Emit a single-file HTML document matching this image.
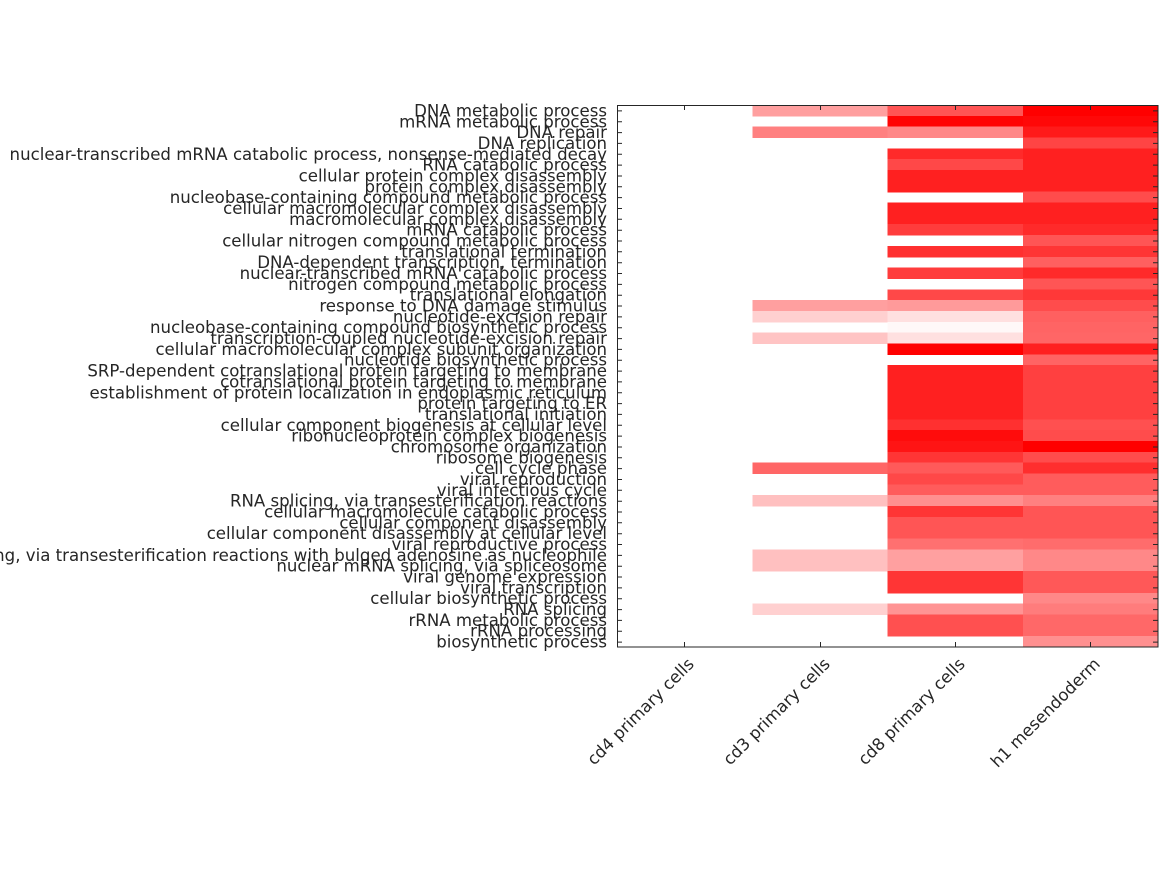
<!DOCTYPE html>
<html><head><meta charset="utf-8"><style>
html,body{margin:0;padding:0;background:#fff;width:1167px;height:875px;overflow:hidden}
svg text{font-family:"DejaVu Sans","Liberation Sans",sans-serif;font-size:16.6px;fill:#262626}
</style></head><body>
<svg width="1167" height="875" viewBox="0 0 1167 875" xmlns="http://www.w3.org/2000/svg">
<g transform="translate(0,105) scale(1,10.84)" shape-rendering="crispEdges">
<g transform="translate(752.3,0)">
<rect y="0" width="135.3" height="1.05" fill="#ff9f9f"/>
<rect y="2" width="135.3" height="1.05" fill="#ff8080"/>
<rect y="18" width="135.3" height="1.05" fill="#ff9f9f"/>
<rect y="19" width="135.3" height="1.05" fill="#ffd0d0"/>
<rect y="21" width="135.3" height="1.05" fill="#ffc4c4"/>
<rect y="33" width="135.3" height="1.05" fill="#ff6666"/>
<rect y="36" width="135.3" height="1.05" fill="#ffc0c0"/>
<rect y="41" width="135.3" height="2.05" fill="#ffc0c0"/>
<rect y="46" width="135.3" height="1.05" fill="#ffd0d0"/>
</g>
<g transform="translate(887.5,0)">
<rect y="0" width="135.3" height="1.05" fill="#ff5555"/>
<rect y="1" width="135.3" height="1.05" fill="#ff0404"/>
<rect y="2" width="135.3" height="1.05" fill="#ff8888"/>
<rect y="4" width="135.3" height="1.05" fill="#ff2a2a"/>
<rect y="5" width="135.3" height="1.05" fill="#ff4848"/>
<rect y="6" width="135.3" height="2.05" fill="#ff2020"/>
<rect y="9" width="135.3" height="2.05" fill="#ff2020"/>
<rect y="11" width="135.3" height="1.05" fill="#ff3c3c"/>
<rect y="13" width="135.3" height="1.05" fill="#ff3030"/>
<rect y="15" width="135.3" height="1.05" fill="#ff3c3c"/>
<rect y="17" width="135.3" height="1.05" fill="#ff4848"/>
<rect y="18" width="135.3" height="1.05" fill="#ff9a9a"/>
<rect y="19" width="135.3" height="1.05" fill="#ffe0e0"/>
<rect y="20" width="135.3" height="1.05" fill="#fff8f8"/>
<rect y="21" width="135.3" height="1.05" fill="#ffe0e0"/>
<rect y="22" width="135.3" height="1.05" fill="#ff0000"/>
<rect y="24" width="135.3" height="5.05" fill="#ff2020"/>
<rect y="29" width="135.3" height="1.05" fill="#ff3030"/>
<rect y="30" width="135.3" height="1.05" fill="#ff0c0c"/>
<rect y="31" width="135.3" height="1.05" fill="#ff1414"/>
<rect y="32" width="135.3" height="1.05" fill="#ff3535"/>
<rect y="33" width="135.3" height="1.05" fill="#ff5a5a"/>
<rect y="34" width="135.3" height="1.05" fill="#ff4848"/>
<rect y="35" width="135.3" height="1.05" fill="#ff5c5c"/>
<rect y="36" width="135.3" height="1.05" fill="#ff9090"/>
<rect y="37" width="135.3" height="1.05" fill="#ff3535"/>
<rect y="38" width="135.3" height="2.05" fill="#ff5555"/>
<rect y="40" width="135.3" height="1.05" fill="#ff7070"/>
<rect y="41" width="135.3" height="2.05" fill="#ffa0a0"/>
<rect y="43" width="135.3" height="2.05" fill="#ff3535"/>
<rect y="46" width="135.3" height="1.05" fill="#ff9494"/>
<rect y="47" width="135.3" height="2.05" fill="#ff5050"/>
</g>
<g transform="translate(1022.8,0)">
<rect y="0" width="135.2" height="1.05" fill="#ff0000"/>
<rect y="1" width="135.2" height="1.05" fill="#ff0808"/>
<rect y="2" width="135.2" height="1.05" fill="#ff1a1a"/>
<rect y="3" width="135.2" height="1.05" fill="#ff4444"/>
<rect y="4" width="135.2" height="4.05" fill="#ff2020"/>
<rect y="8" width="135.2" height="1.05" fill="#ff4c4c"/>
<rect y="9" width="135.2" height="2.05" fill="#ff2020"/>
<rect y="11" width="135.2" height="1.05" fill="#ff2a2a"/>
<rect y="12" width="135.2" height="1.05" fill="#ff5555"/>
<rect y="13" width="135.2" height="1.05" fill="#ff3535"/>
<rect y="14" width="135.2" height="1.05" fill="#ff6060"/>
<rect y="15" width="135.2" height="1.05" fill="#ff2a2a"/>
<rect y="16" width="135.2" height="1.05" fill="#ff5555"/>
<rect y="17" width="135.2" height="1.05" fill="#ff3838"/>
<rect y="18" width="135.2" height="1.05" fill="#ff4c4c"/>
<rect y="19" width="135.2" height="1.05" fill="#ff6060"/>
<rect y="20" width="135.2" height="1.05" fill="#ff6464"/>
<rect y="21" width="135.2" height="1.05" fill="#ff6666"/>
<rect y="22" width="135.2" height="1.05" fill="#ff2020"/>
<rect y="23" width="135.2" height="1.05" fill="#ff6464"/>
<rect y="24" width="135.2" height="5.05" fill="#ff4040"/>
<rect y="29" width="135.2" height="1.05" fill="#ff5050"/>
<rect y="30" width="135.2" height="1.05" fill="#ff4c4c"/>
<rect y="31" width="135.2" height="1.05" fill="#ff0000"/>
<rect y="32" width="135.2" height="1.05" fill="#ff4c4c"/>
<rect y="33" width="135.2" height="1.05" fill="#ff2e2e"/>
<rect y="34" width="135.2" height="2.05" fill="#ff5c5c"/>
<rect y="36" width="135.2" height="1.05" fill="#ff8080"/>
<rect y="37" width="135.2" height="3.05" fill="#ff5555"/>
<rect y="40" width="135.2" height="1.05" fill="#ff6c6c"/>
<rect y="41" width="135.2" height="2.05" fill="#ff8888"/>
<rect y="43" width="135.2" height="2.05" fill="#ff5858"/>
<rect y="45" width="135.2" height="1.05" fill="#ff8888"/>
<rect y="46" width="135.2" height="1.05" fill="#ff7c7c"/>
<rect y="47" width="135.2" height="2.05" fill="#ff6868"/>
<rect y="49" width="135.2" height="1" fill="#ff9090"/>
</g>
</g>
<rect x="617.5" y="105.5" width="540.5" height="541.5" fill="none" stroke="#262626" stroke-width="1"/>
<g stroke="#262626" stroke-width="1">
<path d="M684.5,105v5M820.5,105v5M955.5,105v5M1090.5,105v5M684.5,647v-5M820.5,647v-5M955.5,647v-5M1090.5,647v-5"/>
<path id="rt" d="M1158,110.9h-5M1158,121.8h-5M1158,132.6h-5M1158,143.4h-5M1158,154.3h-5M1158,165.1h-5M1158,176h-5M1158,186.8h-5M1158,197.6h-5M1158,208.5h-5M1158,219.3h-5M1158,230.2h-5M1158,241h-5M1158,251.8h-5M1158,262.7h-5M1158,273.5h-5M1158,284.4h-5M1158,295.2h-5M1158,306h-5M1158,316.9h-5M1158,327.7h-5M1158,338.6h-5M1158,349.4h-5M1158,360.2h-5M1158,371.1h-5M1158,381.9h-5M1158,392.8h-5M1158,403.6h-5M1158,414.4h-5M1158,425.3h-5M1158,436.1h-5M1158,447h-5M1158,457.8h-5M1158,468.6h-5M1158,479.5h-5M1158,490.3h-5M1158,501.2h-5M1158,512h-5M1158,522.8h-5M1158,533.7h-5M1158,544.5h-5M1158,555.4h-5M1158,566.2h-5M1158,577h-5M1158,587.9h-5M1158,598.7h-5M1158,609.6h-5M1158,620.4h-5M1158,631.2h-5M1158,642.1h-5"/>
<use href="#rt" transform="translate(-536,0)"/>
</g>
<g text-anchor="end">
<text x="607" y="116.5">DNA metabolic process</text>
<text x="607" y="127.3">mRNA metabolic process</text>
<text x="607" y="138.1">DNA repair</text>
<text x="607" y="149">DNA replication</text>
<text x="607" y="159.8">nuclear-transcribed mRNA catabolic process, nonsense-mediated decay</text>
<text x="607" y="170.6">RNA catabolic process</text>
<text x="607" y="181.5">cellular protein complex disassembly</text>
<text x="607" y="192.3">protein complex disassembly</text>
<text x="607" y="203.1">nucleobase-containing compound metabolic process</text>
<text x="607" y="214">cellular macromolecular complex disassembly</text>
<text x="607" y="224.8">macromolecular complex disassembly</text>
<text x="607" y="235.7">mRNA catabolic process</text>
<text x="607" y="246.5">cellular nitrogen compound metabolic process</text>
<text x="607" y="257.3">translational termination</text>
<text x="607" y="268.2">DNA-dependent transcription, termination</text>
<text x="607" y="279">nuclear-transcribed mRNA catabolic process</text>
<text x="607" y="289.9">nitrogen compound metabolic process</text>
<text x="607" y="300.7">translational elongation</text>
<text x="607" y="311.5">response to DNA damage stimulus</text>
<text x="607" y="322.4">nucleotide-excision repair</text>
<text x="607" y="333.2">nucleobase-containing compound biosynthetic process</text>
<text x="607" y="344.1">transcription-coupled nucleotide-excision repair</text>
<text x="607" y="354.9">cellular macromolecular complex subunit organization</text>
<text x="607" y="365.7">nucleotide biosynthetic process</text>
<text x="607" y="376.6">SRP-dependent cotranslational protein targeting to membrane</text>
<text x="607" y="387.4">cotranslational protein targeting to membrane</text>
<text x="607" y="398.3">establishment of protein localization in endoplasmic reticulum</text>
<text x="607" y="409.1">protein targeting to ER</text>
<text x="607" y="419.9">translational initiation</text>
<text x="607" y="430.8">cellular component biogenesis at cellular level</text>
<text x="607" y="441.6">ribonucleoprotein complex biogenesis</text>
<text x="607" y="452.5">chromosome organization</text>
<text x="607" y="463.3">ribosome biogenesis</text>
<text x="607" y="474.1">cell cycle phase</text>
<text x="607" y="485">viral reproduction</text>
<text x="607" y="495.8">viral infectious cycle</text>
<text x="607" y="506.7">RNA splicing, via transesterification reactions</text>
<text x="607" y="517.5">cellular macromolecule catabolic process</text>
<text x="607" y="528.3">cellular component disassembly</text>
<text x="607" y="539.2">cellular component disassembly at cellular level</text>
<text x="607" y="550">viral reproductive process</text>
<text x="607" y="560.9">nuclear mRNA splicing, via transesterification reactions with bulged adenosine as nucleophile</text>
<text x="607" y="571.7">nuclear mRNA splicing, via spliceosome</text>
<text x="607" y="582.5">viral genome expression</text>
<text x="607" y="593.4">viral transcription</text>
<text x="607" y="604.2">cellular biosynthetic process</text>
<text x="607" y="615.1">RNA splicing</text>
<text x="607" y="625.9">rRNA metabolic process</text>
<text x="607" y="636.7">rRNA processing</text>
<text x="607" y="647.6">biosynthetic process</text>
</g>
<g text-anchor="end">
<text transform="translate(695,665) rotate(-45)">cd4 primary cells</text>
<text transform="translate(831,665) rotate(-45)">cd3 primary cells</text>
<text transform="translate(966,665) rotate(-45)">cd8 primary cells</text>
<text transform="translate(1101,665) rotate(-45)">h1 mesendoderm</text>
</g>
</svg>
</body></html>
